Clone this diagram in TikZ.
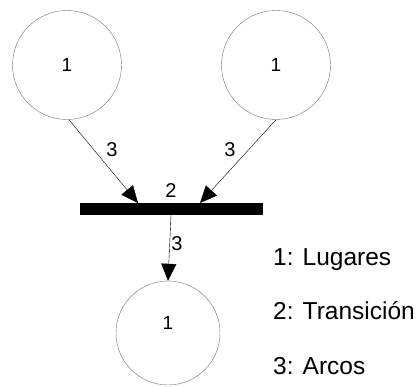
\documentclass[tikz,border=0pt]{standalone}
\usepackage{fontspec}
\setmainfont{Liberation Sans}
\usetikzlibrary{arrows.meta}

\colorlet{place edge}{black!55}
\tikzset{place/.style={circle, draw=place edge, thin, inner sep=0pt, font=\fontsize{19}{19}\selectfont},
    bar/.style={rectangle, fill=black, inner sep=0pt, minimum width=183pt, minimum height=12pt},
    arc/.style={draw=black, thin, -{Triangle[length=17pt, width=15pt]}},
    weight/.style={font=\fontsize{20}{20}\selectfont},
    legend/.style={anchor=base west, inner sep=0pt, font=\fontsize{24.5}{24.5}\selectfont}}

\begin{document}
\begin{tikzpicture}[x=1pt, y=-1pt]
        \useasboundingbox (0,0) rectangle (417,386);

        % Places
        \node[place, minimum size=109pt] (lugarA) at (67,65) {1};
        \node[place, minimum size=109pt] (lugarB) at (276,65) {1};
        \node[place, minimum size=104pt, label={[yshift=10pt, font=\fontsize{19}{19}\selectfont]center:1}] (lugarC) at (168,333) {};

        % Transition
        \node[bar] (trans) at (171,209) {};
        \coordinate (inA) at (138,203);
        \coordinate (inB) at (200,203);
        \node[weight] (pesoT) at (171,191) {2};

        % Arcs
        \draw[arc] (lugarA.-88) -- (inA);
        \draw[arc] (lugarB.south) -- (inB);
        \draw[arc] (trans.south) -- (lugarC.north);
        \node[weight] (pesoA) at (112,150) {3};
        \node[weight] (pesoB) at (230,150) {3};
        \node[weight] (pesoC) at (177,244) {3};

        % Legend
        \node[legend] (leyA) at (273,265) {1: Lugares};
        \node[legend] (leyB) at (273,319) {2: Transición};
        \node[legend] (leyC) at (273,374) {3: Arcos};
    \end{tikzpicture}
\end{document}
